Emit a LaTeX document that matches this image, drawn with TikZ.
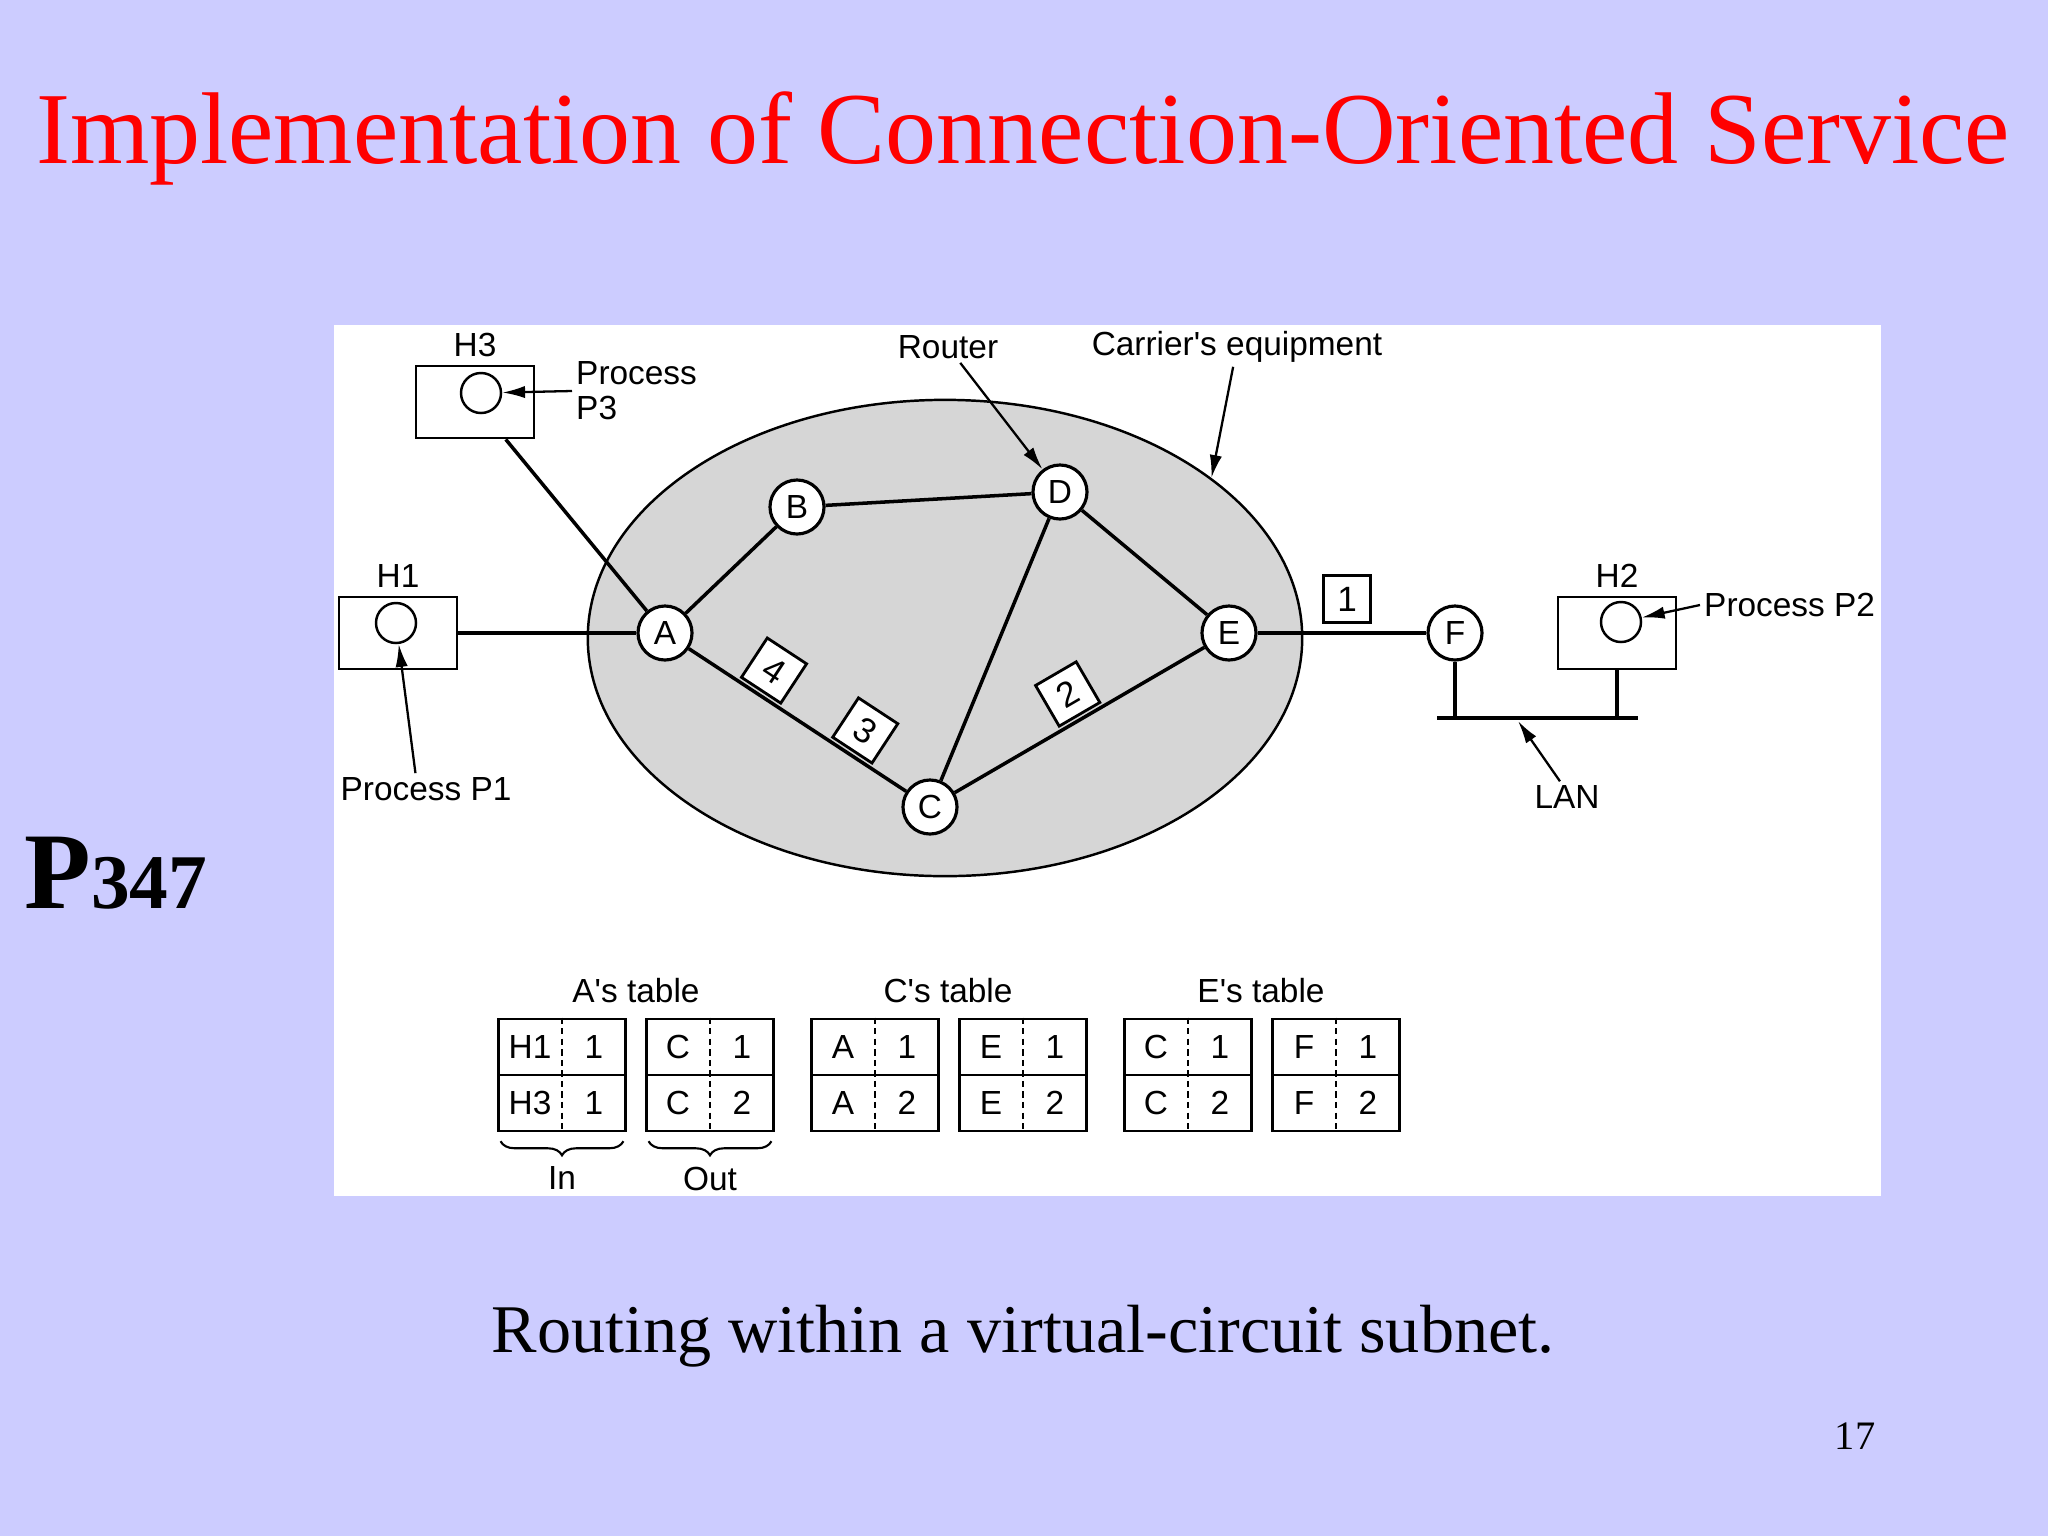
\documentclass[tikz,border=0pt]{standalone}
\usepackage{fontspec}
\setmainfont{Liberation Serif}
\setsansfont{Liberation Sans}
\usepackage{xcolor}
\usepackage{tikz}
\usetikzlibrary{shapes.geometric,arrows.meta,decorations.pathreplacing,positioning}
\definecolor{slidebg}{HTML}{CCCCFF}
\definecolor{titlered}{HTML}{FF0000}
\definecolor{carriergray}{HTML}{D6D6D6}

\tikzset{
  router/.style={draw, circle, fill=white, line width=0.9pt, minimum size=0.54cm, inner sep=0pt, font=\sffamily\fontsize{9.5}{10}\selectfont},
  hostbox/.style={draw, fill=white, line width=0.8pt, minimum width=1.18cm, minimum height=0.72cm, inner sep=0pt},
  proc/.style={draw, circle, line width=0.7pt, minimum size=0.40cm, inner sep=0pt},
  packet/.style={draw, fill=white, line width=0.8pt, minimum size=0.47cm, inner sep=0pt, font=\sffamily\fontsize{10}{11}\selectfont},
  link/.style={line width=1pt},
  lbl/.style={font=\sffamily\fontsize{9.5}{10}\selectfont, inner sep=1pt},
  callout/.style={line width=0.65pt, -{Latex[length=6.5pt,width=3.5pt]}},
  tabhalf/.style={draw, line width=0.8pt, minimum width=1.27cm, minimum height=1.12cm, inner sep=0pt},
  cell/.style={font=\sffamily\fontsize{9.5}{11}\selectfont, inner sep=0pt},
}

% one half of a routing table: name, centre, four entries
\newcommand{\vctable}[6]{%
  \node[tabhalf] (#1) at (#2) {};%
  \draw[line width=0.8pt] (#1.west) -- (#1.east);%
  \draw[line width=0.6pt, dash pattern=on 1.8pt off 1.2pt] (#1.north) -- (#1.south);%
  \node[cell] (#1-11) at ([xshift=-0.32cm, yshift=0.28cm]#1.center) {#3};%
  \node[cell] (#1-12) at ([xshift=0.32cm, yshift=0.28cm]#1.center) {#4};%
  \node[cell] (#1-21) at ([xshift=-0.32cm, yshift=-0.28cm]#1.center) {#5};%
  \node[cell] (#1-22) at ([xshift=0.32cm, yshift=-0.28cm]#1.center) {#6};%
}

\begin{document}
\begin{tikzpicture}[x=0.01cm, y=-0.01cm]%
\useasboundingbox (0,0) rectangle (2048,1536);%
\fill[slidebg] (0,0) rectangle (2048,1536);%
\node[font=\fontsize{29}{34}\selectfont, text=titlered, anchor=base, inner sep=0pt] (title) at (1023,163) {Implementation of Connection-Oriented Service};%
\node[anchor=base west, font=\bfseries, inner sep=0pt] (pageref) at (24,908) {\fontsize{31}{36}\selectfont P\fontsize{22}{28}\selectfont 347};%
\node[anchor=base, font=\fontsize{19.4}{23}\selectfont, inner sep=0pt] (caption) at (1023,1352) {Routing within a virtual-circuit subnet.};%
\node[anchor=base, font=\fontsize{11.5}{14}\selectfont, inner sep=0pt] (pagenum) at (1855,1449) {17};%
\fill[white] (334,325) rectangle (1881,1196);%
% subnet
\node[ellipse, draw, fill=carriergray, line width=0.7pt, minimum width=7.14cm, minimum height=4.76cm, inner sep=0pt] (carrier) at (945,638) {};%
\node[router] (A) at (665,633) {A};%
\node[router] (B) at (797,507) {B};%
\node[router] (D) at (1060,492) {D};%
\node[router] (C) at (930,807) {C};%
\node[router] (E) at (1229,633) {E};%
\node[router] (F) at (1455,633) {F};%
\draw[link] (A) -- (B);%
\draw[link] (B) -- (D);%
\draw[link] (D) -- (E);%
\draw[link] (D) -- (C);%
\draw[link] (A) -- node[packet, sloped, above=1pt, pos=0.32] (pk4) {4} node[packet, sloped, above=1pt, pos=0.74] (pk3) {3} (C);%
\draw[link] (C) -- node[packet, sloped, above=1pt, pos=0.51] (pk2) {2} (E);%
\draw[link] (E) -- node[packet, above=2.5pt, pos=0.53] (pk1) {1} (F);%
% hosts
\node[hostbox] (h3) at (475,402) {};%
\node[proc] (p3) at (481,393) {};%
\node[lbl, above=1pt of h3] (h3lbl) {H3};%
\node[hostbox] (h1) at (398,633) {};%
\node[proc] (p1) at (396,623) {};%
\node[lbl, above=1pt of h1] (h1lbl) {H1};%
\node[hostbox] (h2) at (1617,633) {};%
\node[proc] (p2) at (1621,622) {};%
\node[lbl, above=1pt of h2] (h2lbl) {H2};%
\draw[link] (h3) -- (A);%
\draw[link] (h1) -- (A);%
% LAN
\coordinate (lanL) at (1437,718);%
\coordinate (lanR) at (1638,718);%
\coordinate (lanhit) at (1518,721);%
\draw[line width=1.4pt] (lanL) -- (lanR);%
\draw[link] (F) -- (F |- lanL);%
\draw[link] (h2.south) -- (h2.south |- lanL);%
% labels
\node[lbl, align=left, anchor=west] (p3lbl) at (572,391) {Process\\P3};%
\node[lbl] (p1lbl) at (426,789) {Process P1};%
\node[lbl, anchor=west] (p2lbl) at (1700,605) {Process P2};%
\node[lbl] (routerlbl) at (948,347) {Router};%
\node[lbl] (carrierlbl) at (1237,347) {Carrier\textquotesingle s equipment};%
\node[lbl] (lanlbl) at (1567,797) {LAN};%
\draw[callout] (p3lbl.west) -- (p3);%
\draw[callout] ([xshift=-3pt]p1lbl.north) -- (p1);%
\draw[callout] (p2lbl.west) -- (p2);%
\draw[callout] (routerlbl) -- (D);%
\draw[callout] (carrierlbl) -- (carrier.31);%
\draw[callout] ([xshift=-2pt]lanlbl.north) -- (lanhit);%
% tables
\node[lbl] (tabA) at (636,991) {A\textquotesingle s table};%
\node[lbl] (tabC) at (948,991) {C\textquotesingle s table};%
\node[lbl] (tabE) at (1261,991) {E\textquotesingle s table};%
\vctable{ain}{562,1075}{H1}{1}{H3}{1}%
\vctable{aout}{710,1075}{C}{1}{C}{2}%
\vctable{cin}{875,1075}{A}{1}{A}{2}%
\vctable{cout}{1023,1075}{E}{1}{E}{2}%
\vctable{ein}{1188,1075}{C}{1}{C}{2}%
\vctable{eout}{1336,1075}{F}{1}{F}{2}%
\draw[decorate, decoration={brace, mirror, amplitude=4pt}, line width=0.6pt] ([xshift=1pt, yshift=-2.5pt]ain.south west) -- ([xshift=-1pt, yshift=-2.5pt]ain.south east) node[lbl, midway, below=6pt] (inlbl) {In};%
\draw[decorate, decoration={brace, mirror, amplitude=4pt}, line width=0.6pt] ([xshift=1pt, yshift=-2.5pt]aout.south west) -- ([xshift=-1pt, yshift=-2.5pt]aout.south east) node[lbl, midway, below=6pt] (outlbl) {Out};%
\end{tikzpicture}
\end{document}
